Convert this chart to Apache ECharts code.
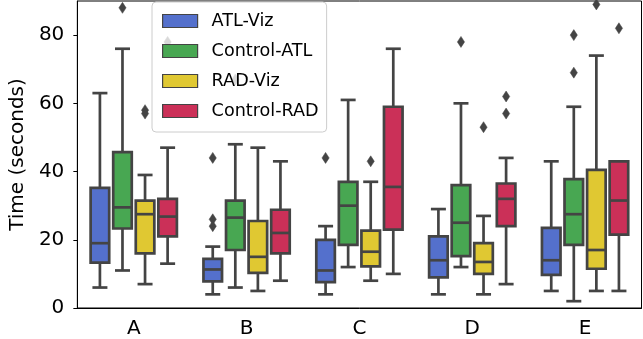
<!DOCTYPE html>
<html><head><meta charset="utf-8">
<script src="https://cdn.jsdelivr.net/npm/echarts@6/dist/echarts.min.js"></script>
<style>html,body{margin:0;padding:0;background:#fff}#c{width:643px;height:339px}</style>
</head><body><div id="c"></div>
<script>
const categories = ['A', 'B', 'C', 'D', 'E'];
const seriesNames = ['ATL-Viz', 'Control-ATL', 'RAD-Viz', 'Control-RAD'];
const yTicks = [0, 20, 40, 60, 80];
// [min, Q1, median, Q3, max] per category A..E
const atlViz     = [[6, 13.3, 19, 35.2, 63], [4, 7.8, 11.3, 14.4, 18], [4, 7.6, 11, 20, 24], [4, 9, 14, 21, 29], [5, 9.7, 14, 23.5, 43]];
const controlAtl = [[11, 23.3, 29.5, 45.7, 76], [6, 17, 26.5, 31.5, 48], [12, 18.5, 30, 37, 61], [12, 15.2, 25, 36, 60], [2, 18.5, 27.5, 37.8, 59]];
const radViz     = [[7, 16, 27.5, 31.5, 39], [5, 10.3, 15, 25.5, 47], [8, 12.2, 16.5, 22.7, 37], [4, 10, 13.5, 19, 27], [5, 11.5, 17, 40.5, 74]];
const controlRad = [[13, 21, 26.8, 32, 47], [8, 16, 22, 28.8, 43], [10, 23, 35.5, 59, 76], [7, 24, 32, 36.5, 44], [5, 21.5, 31.5, 43, 43]];
// outliers per category A..E
const atlVizOut     = [[], [44, 26, 24], [44], [], []];
const controlAtlOut = [[88], [67], [], [78], [80, 69]];
const radVizOut     = [[58, 57], [], [43], [53], [89]];
const controlRadOut = [[78], [], [], [62, 57], [82]];

const colors = ['#5470CC', '#48A752', '#E0C832', '#CB3058'];
const LINE = '#444444';
const LW = 2.7;

function boxRenderer(k) {
  return function (params, api) {
    const ci = api.value(0);
    const band = api.size([1, 0])[0];
    const cx = api.coord([ci, 0])[0] + (k - 1.5) * band * 0.2;
    const w = band * 0.2 - 1.3 - LW;
    const y = i => api.coord([ci, api.value(i)])[1];
    const yMin = y(1), yQ1 = y(2), yMed = y(3), yQ3 = y(4), yMax = y(5);
    const capHalf = 7.5;
    const ls = { stroke: LINE, lineWidth: LW, fill: null };
    return { type: 'group', children: [
      { type: 'line', shape: { x1: cx, y1: yQ1, x2: cx, y2: yMin }, style: ls },
      { type: 'line', shape: { x1: cx, y1: yQ3, x2: cx, y2: yMax }, style: ls },
      { type: 'line', shape: { x1: cx - capHalf, y1: yMin, x2: cx + capHalf, y2: yMin }, style: ls },
      { type: 'line', shape: { x1: cx - capHalf, y1: yMax, x2: cx + capHalf, y2: yMax }, style: ls },
      { type: 'rect', shape: { x: cx - w / 2, y: yQ3, width: w, height: yQ1 - yQ3 }, style: { fill: colors[k], stroke: LINE, lineWidth: LW } },
      { type: 'line', shape: { x1: cx - w / 2, y1: yMed, x2: cx + w / 2, y2: yMed }, style: ls }
    ] };
  };
}
function outRenderer(k) {
  return function (params, api) {
    const ci = api.value(0);
    const band = api.size([1, 0])[0];
    const p = api.coord([ci, api.value(1)]);
    const cx = p[0] + (k - 1.5) * band * 0.2, cy = p[1];
    return { type: 'polygon', shape: { points: [[cx, cy - 5.5], [cx + 3.6, cy], [cx, cy + 5.5], [cx - 3.6, cy]] },
      style: { fill: LINE, stroke: LINE, lineWidth: 0.5 } };
  };
}
const boxSets = [atlViz, controlAtl, radViz, controlRad];
const outSets = [atlVizOut, controlAtlOut, radVizOut, controlRadOut];
const series = [];
boxSets.forEach((set, k) => {
  series.push({
    name: seriesNames[k], type: 'custom', renderItem: boxRenderer(k),
    itemStyle: { color: colors[k] },
    encode: { x: 0, y: [1, 2, 3, 4, 5] },
    data: set.map((s, i) => [i].concat(s)), z: 2
  });
});
outSets.forEach((set, k) => {
  const d = [];
  set.forEach((vals, i) => vals.forEach(v => d.push([i, v])));
  series.push({
    name: seriesNames[k] + ' outliers', type: 'custom', renderItem: outRenderer(k),
    itemStyle: { color: LINE }, encode: { x: 0, y: 1 }, data: d, z: 3
  });
});

const chart = echarts.init(document.getElementById('c'), null, { renderer: 'canvas' });
chart.setOption({
  animation: false,
  textStyle: { fontFamily: 'DejaVu Sans' },
  grid: { left: 69.5, right: 1.5, top: 1, bottom: 30, show: true, borderColor: '#000', borderWidth: 1, backgroundColor: 'transparent' },
  legend: {
    data: seriesNames, orient: 'vertical', left: 152, top: 2,
    icon: 'rect', itemWidth: 35, itemHeight: 13, itemGap: 12,
    padding: [10, 8, 12, 10],
    backgroundColor: 'rgba(255,255,255,0.8)', borderColor: '#cccccc', borderWidth: 1, borderRadius: 4,
    itemStyle: { borderColor: '#444', borderWidth: 1.2 },
    textStyle: { fontFamily: 'DejaVu Sans', fontSize: 17.6, color: '#000', lineHeight: 13, padding: [0, 0, 0, 9] }
  },
  xAxis: {
    type: 'category', data: categories,
    axisLine: { lineStyle: { color: '#000', width: 1 } },
    axisTick: { alignWithLabel: true, length: 4, lineStyle: { color: '#000' } },
    axisLabel: { fontSize: 20, color: '#000', margin: 11 },
    splitLine: { show: false }
  },
  yAxis: {
    type: 'value', min: 0, max: 90, interval: 20,
    name: 'Time (seconds)', nameLocation: 'middle', nameGap: 48,
    nameTextStyle: { fontSize: 20, color: '#000' },
    axisLine: { show: true, lineStyle: { color: '#000', width: 1 } },
    axisTick: { show: true, length: 4, lineStyle: { color: '#000' }, customValues: yTicks },
    axisLabel: { fontSize: 20, color: '#000', margin: 13, customValues: yTicks },
    splitLine: { show: false }
  },
  series: series
});
</script>
</body></html>
